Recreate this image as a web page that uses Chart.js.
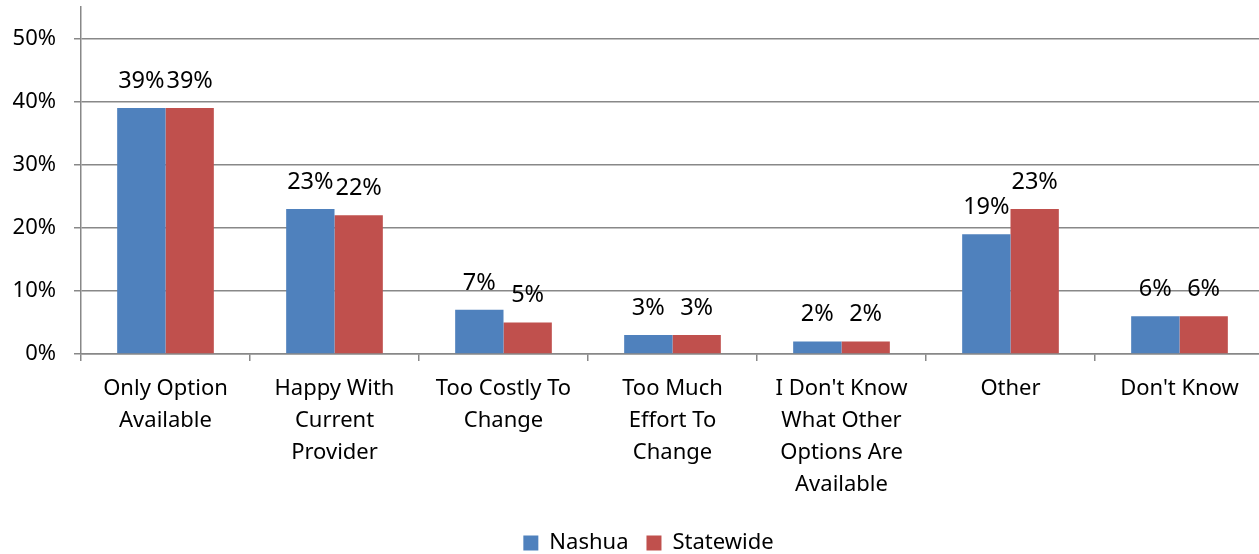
<!DOCTYPE html>
<html><head><meta charset="utf-8">
<script src="https://cdn.jsdelivr.net/npm/chart.js@4/dist/chart.umd.min.js"></script>
<style>html,body{margin:0;padding:0;background:#fff;overflow:hidden}#wrap{width:1264px;height:554px}</style>
</head><body><div id="wrap"><canvas id="c" width="1264" height="554"></canvas></div>
<script>
const categories = [["Only Option","Available"],["Happy With","Current","Provider"],["Too Costly To","Change"],["Too Much","Effort To","Change"],["I Don't Know","What Other","Options Are","Available"],["Other"],["Don't Know"]];
const nashua = [0.39,0.23,0.07,0.03,0.02,0.19,0.06];
const statewide = [0.39,0.22,0.05,0.03,0.02,0.23,0.06];
const yTicks = [0,0.1,0.2,0.3,0.4,0.5];

const FONT = "'Noto Sans', sans-serif";
const labelPlugin = {
  id:'barLabels',
  afterDatasetsDraw(chart){
    const ctx = chart.ctx;
    ctx.save();
    ctx.font = "23.5px " + FONT;
    ctx.fillStyle = '#000';
    ctx.textAlign = 'center';
    ctx.textBaseline = 'middle';
    chart.data.datasets.forEach((ds,i)=>{
      chart.getDatasetMeta(i).data.forEach((bar,j)=>{
        ctx.fillText(Math.round(ds.data[j]*100)+'%', bar.x, bar.y-27);
      });
    });
    ctx.restore();
  }
};
const legendShift = {
  id:'legendShift',
  afterLayout(chart){
    const l = chart.legend;
    const dy = 554 - 15 - (l.top + l.bottom)/2;
    const dx = 648.5 - (l.left + l.right)/2;
    l.top += dy; l.bottom += dy; l.left += dx; l.right += dx;
    if (l.legendHitBoxes) l.legendHitBoxes.forEach(b=>{b.top += dy; b.left += dx;});
  }
};

new Chart(document.getElementById('c'),{
  type:'bar',
  data:{labels:categories,datasets:[
    {label:'Nashua',data:nashua,backgroundColor:'#4F81BD',borderWidth:0,categoryPercentage:0.572,barPercentage:1},
    {label:'Statewide',data:statewide,backgroundColor:'#C0504D',borderWidth:0,categoryPercentage:0.572,barPercentage:1}
  ]},
  options:{
    responsive:false,animation:false,
    layout:{padding:{top:7,right:0,left:0,bottom:0}},
    plugins:{
      legend:{position:'bottom',labels:{font:{family:FONT,size:22},color:'#000',boxWidth:15,boxHeight:15,padding:18}},
      tooltip:{enabled:false}
    },
    scales:{
      x:{
        grid:{drawOnChartArea:false,drawTicks:true,tickLength:7,color:'#888',offset:true,lineWidth:1.5},
        border:{color:'#888',width:1.5},
        ticks:{font:{family:FONT,size:22,lineHeight:1.45},color:'#000',maxRotation:0,autoSkip:false,padding:12},
        afterFit(s){s.height=150;}
      },
      y:{
        min:0,max:0.55,
        afterBuildTicks(s){s.ticks = yTicks.map(v=>({value:v}));},
        grid:{color:'#888',lineWidth:1.5,tickLength:7},
        border:{color:'#888',width:1.5},
        ticks:{font:{family:FONT,size:22},color:'#000',padding:18,callback:v=>Math.round(v*100)+'%'},
        afterFit(s){s.width=81; s.paddingTop=0; s.paddingBottom=0;}
      }
    }
  },
  plugins:[labelPlugin, legendShift]
});
</script></body></html>
